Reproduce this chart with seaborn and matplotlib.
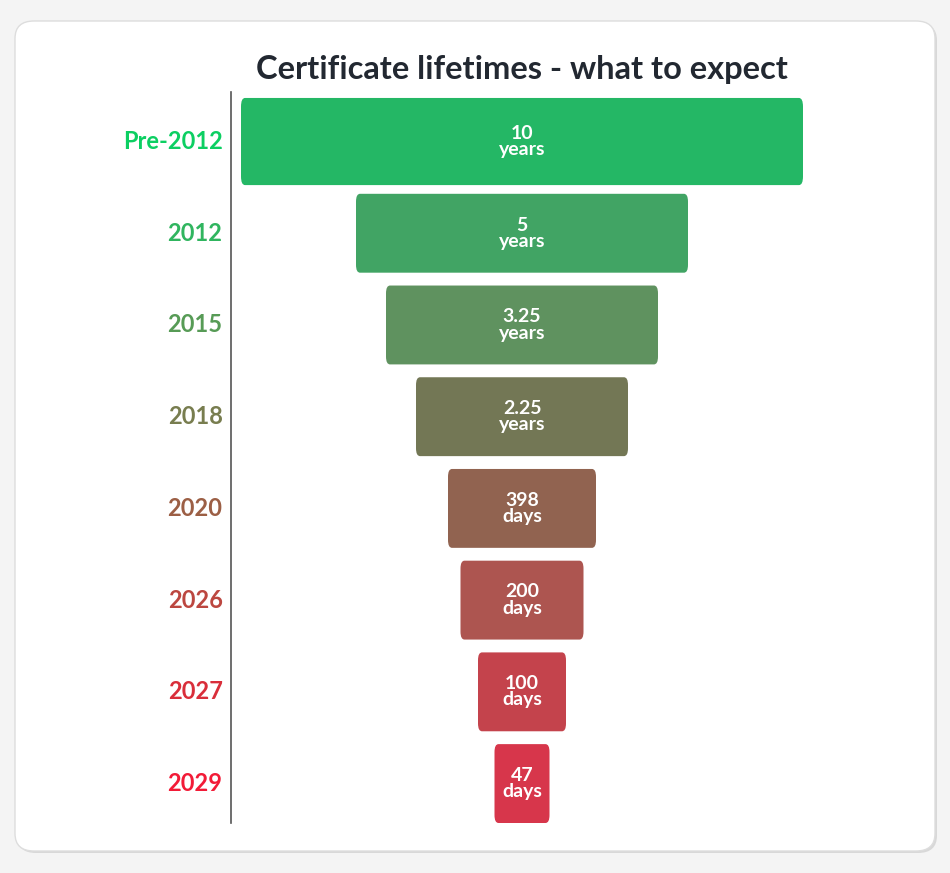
import matplotlib
matplotlib.use("Agg")
import matplotlib.pyplot as plt
import seaborn as sns
import pandas as pd
from matplotlib.patches import FancyBboxPatch

periods = ["Pre-2012", "2012", "2015", "2018", "2020", "2026", "2027", "2029"]
lifetimes = ["10\nyears", "5\nyears", "3.25\nyears", "2.25\nyears", "398\ndays", "200\ndays", "100\ndays", "47\ndays"]
funnel_widths = [562, 332, 272, 212, 148, 123, 88, 55]
colors = ["#0ccf62", "#30b55f", "#579b56", "#787d4f", "#9c5f45", "#bc4740", "#d92e3a", "#f21b37"]

sns.set_theme(style="white")
plt.rcParams['font.family'] = ['Lato', 'DejaVu Sans']

fig = plt.figure(figsize=(9.5, 8.73), dpi=100)
W, H = 950, 873
fig.patch.set_facecolor("#f4f4f4")
fig.patches.append(FancyBboxPatch((17/W, 20/H), 920/W, 830/H, boxstyle="round,pad=0,rounding_size=0.02",
                                  transform=fig.transFigure, facecolor="#d8d8d8", edgecolor="none", zorder=-2))
fig.patches.append(FancyBboxPatch((15/W, 22/H), 920/W, 830/H, boxstyle="round,pad=0,rounding_size=0.02",
                                  transform=fig.transFigure, facecolor="white", edgecolor="#dddddd", zorder=-1))

ax = fig.add_axes([231/W, (H-823)/H, 700/W, (823-92)/H])
ax.set_zorder(5)
ax.set_facecolor("none")
df = pd.DataFrame({"period": periods, "width": funnel_widths})
sns.barplot(data=df, x="width", y="period", hue="period", palette=colors, orient="h", legend=False, ax=ax)

xmin, center = 231, 522
ax.set_xlim(xmin, 931)
ax.set_ylim(7.43, -0.54)
patches = list(ax.patches)
for p in patches:
    p.set_visible(False)
for i, p in enumerate(patches):
    w = p.get_width()
    h = 0.95 if i == 0 else 0.86
    yc = p.get_y() + p.get_height() / 2
    ax.add_patch(FancyBboxPatch((center - w / 2, yc - h / 2), w, h,
                                boxstyle="round,pad=0,rounding_size=4",
                                mutation_aspect=h / 40, facecolor=p.get_facecolor(), edgecolor="none"))
    ax.text(center, yc, lifetimes[i], ha="center", va="center", color="white",
            fontsize=14, fontweight="bold", linespacing=0.95)
    ax.text(-0.012, yc, periods[i], transform=ax.get_yaxis_transform(), ha="right", va="center",
            color=colors[i], fontsize=17, fontweight="bold", clip_on=False)

ax.set_yticks([])
ax.set_xticks([])
ax.set_xlabel("")
ax.set_ylabel("")
for s in ["top", "right", "bottom"]:
    ax.spines[s].set_visible(False)
ax.spines["left"].set_color("#555555")
ax.spines["left"].set_linewidth(1.2)

fig.text(522/W, 1 - 70/H, "Certificate lifetimes - what to expect", ha="center", va="center",
         fontsize=23.5, fontweight="bold", color="#222831")

fig.savefig("out.png", dpi=100)
